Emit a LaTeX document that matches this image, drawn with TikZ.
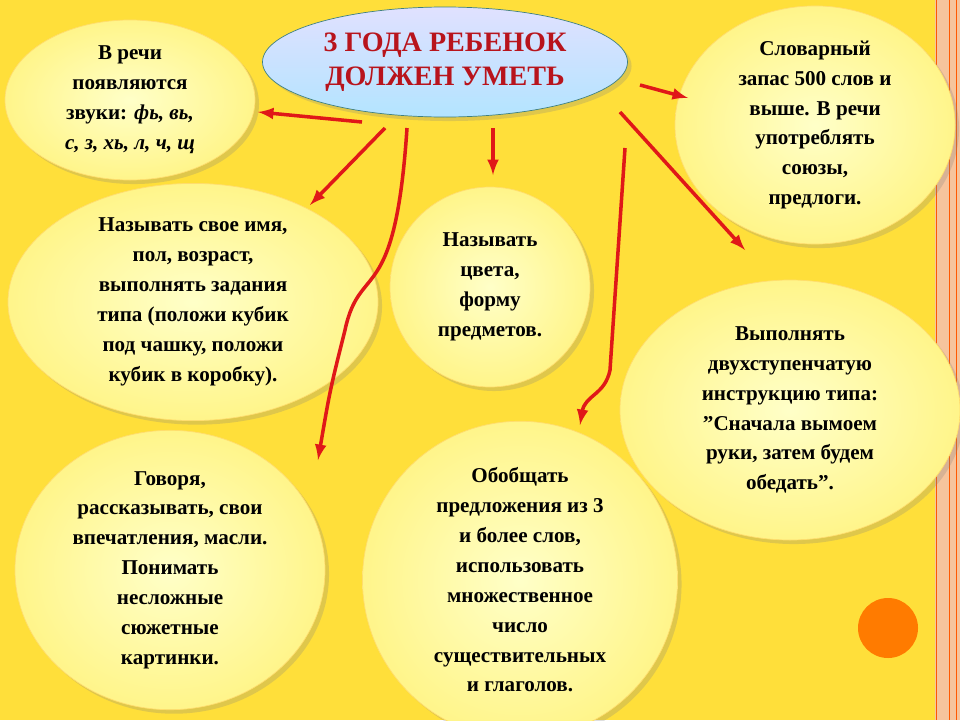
\documentclass[tikz,border=0pt]{standalone}
\usepackage{fontspec}
\setmainfont{Liberation Serif}[Script=Cyrillic,BoldFont={Liberation Serif Bold},ItalicFont={Liberation Serif Italic},BoldItalicFont={Liberation Serif Bold Italic}]
\usetikzlibrary{shapes.geometric,shadows}
\definecolor{bgyellow}{HTML}{FFDF3A}
\definecolor{bubble}{HTML}{FFF58A}
\definecolor{bubblein}{HTML}{FFFFC8}
\definecolor{arrowred}{HTML}{E01818}
\definecolor{titlered}{HTML}{B8141C}
\definecolor{stripe}{HTML}{F6C49C}
\newcommand{\qt}{\char"22\relax}
\begin{document}
\begin{tikzpicture}
  [bubblebox/.style={ellipse, inner color=bubblein, outer color=bubble,
     draw=bubble!80!orange, drop shadow={opacity=0.25},
     align=center, font=\bfseries\fontsize{12}{17}\selectfont, inner sep=0pt},
   redarrow/.style={draw=arrowred, line width=2pt, -latex}]
  \useasboundingbox (0,0) rectangle (19.2,-14.4);
  % background
  \fill[bgyellow] (0,0) rectangle (19.2,-14.4);
  \fill[stripe] (18.7,0) rectangle (19.2,-14.4);
  \foreach \x in {18.72,18.98,19.12}
    \draw[orange!70!red, line width=0.4pt] (\x,0) -- (\x,-14.4);
  % title
  \node[ellipse, minimum width=7.3cm, minimum height=2.2cm,
    top color=blue!12, bottom color=blue!35!cyan!30, draw=teal!50!gray,
    drop shadow={opacity=0.25}, align=center, text=titlered,
    font=\bfseries\fontsize{16}{19}\selectfont] (title) at (8.9,-1.24)
    {3 ГОДА РЕБЕНОК\\ДОЛЖЕН УМЕТЬ};
  % bubbles
  \node[bubblebox, minimum width=5cm, minimum height=3.2cm] (sounds) at (2.6,-2.0)
    {В речи\\появляются\\звуки: \textit{фь, вь,}\\\textit{с, з, хь, л, ч, щ}};
  \node[bubblebox, minimum width=5.6cm, minimum height=4cm] (words) at (16.3,-2.5)
    {Словарный\\запас 500 слов и\\выше. В речи\\употреблять\\союзы,\\предлоги.};
  \node[bubblebox, minimum width=7.4cm, minimum height=4.4cm] (name) at (3.86,-6.04)
    {Называть свое имя,\\пол, возраст,\\выполнять задания\\типа (положи кубик\\под чашку, положи\\кубик в коробку).};
  \node[bubblebox, minimum width=4cm, minimum height=4cm] (colours) at (9.8,-5.74)
    {Называть\\цвета,\\форму\\предметов.};
  \node[bubblebox, minimum width=6.8cm, minimum height=5.2cm] (steps) at (15.8,-8.2)
    {Выполнять\\двухступенчатую\\инструкцию типа:\\\qt Сначала вымоем\\руки, затем будем\\обедать\qt .};
  \node[bubblebox, minimum width=6.2cm, minimum height=5.4cm] (talk) at (3.4,-11.4)
    {Говоря,\\рассказывать, свои\\впечатления, масли.\\Понимать\\несложные\\сюжетные\\картинки.};
  \node[bubblebox, minimum width=6.3cm, minimum height=5.4cm] (phrases) at (10.4,-11.6)
    {Обобщать\\предложения из 3\\и более слов,\\использовать\\множественное\\число\\существительных\\и глаголов.};
  \fill[orange!85!red!90!yellow] (17.76,-12.56) circle (0.6);
  % arrows
  \coordinate (a1) at (7.24,-2.44);
  \coordinate (a2) at (7.7,-2.56);
  \coordinate (a3) at (8.14,-2.56);
  \coordinate (a4) at (9.86,-2.56);
  \coordinate (a5) at (12.5,-2.96);
  \coordinate (a6) at (12.4,-2.24);
  \coordinate (a7) at (12.8,-1.7);
  \draw[redarrow] (a1) -- (5.16,-2.24);
  \draw[redarrow] (a2) -- (6.2,-4.1);
  \draw[redarrow] (a3) .. controls (7.9,-6.2) and (7.2,-5.2) .. (6.9,-6.6)
    .. controls (6.6,-7.8) .. (6.36,-9.2);
  \draw[redarrow] (a4) -- (9.86,-3.5);
  \draw[redarrow] (a5) -- (12.2,-7.4) .. controls (12.1,-7.9) and (11.7,-7.9) .. (11.6,-8.5);
  \draw[redarrow] (a6) -- (14.9,-5.0);
  \draw[redarrow] (a7) -- (13.76,-1.96);
\end{tikzpicture}
\end{document}
